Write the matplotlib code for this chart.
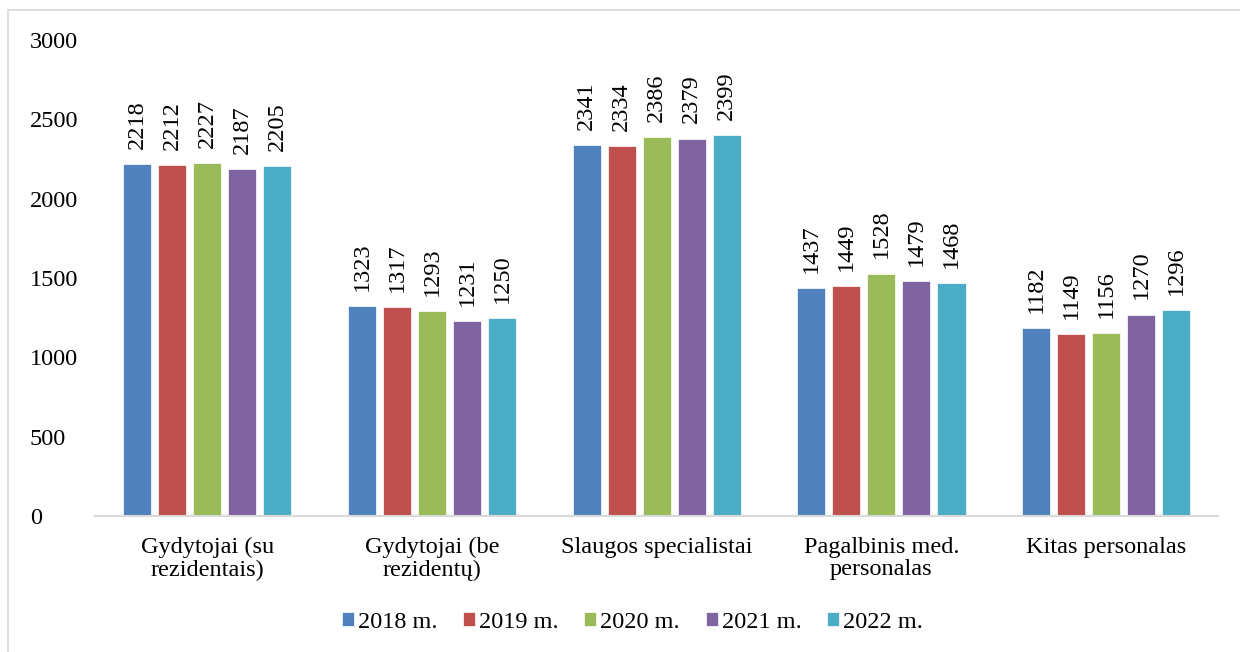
import matplotlib.pyplot as plt
from matplotlib.patches import Rectangle
import numpy as np

plt.rcParams['font.family'] = ['Liberation Serif', 'DejaVu Serif']

categories = ['Gydytojai (su\nrezidentais)', 'Gydytojai (be\nrezidentų)', 'Slaugos specialistai',
              'Pagalbinis med.\npersonalas', 'Kitas personalas']
years = ['2018 m.', '2019 m.', '2020 m.', '2021 m.', '2022 m.']
values = [
    [2218, 1323, 2341, 1437, 1182],
    [2212, 1317, 2334, 1449, 1149],
    [2227, 1293, 2386, 1528, 1156],
    [2187, 1231, 2379, 1479, 1270],
    [2205, 1250, 2399, 1468, 1296],
]
colors = ['#4F81BD', '#C0504D', '#9BBB59', '#8064A2', '#4BACC6']

FS = 17.5

fig = plt.figure(figsize=(12.4, 6.52), dpi=100)
ax = fig.add_axes([0.0766, 0.2086, 0.906, 0.730])

# outer chart border
fig.patches.append(Rectangle((8 / 1240, -0.1), 1.2, 1 - 10 / 652 + 0.1, transform=fig.transFigure,
                             fill=False, edgecolor='#d9d9d9', linewidth=1.2))

x = np.arange(len(categories))
width = 0.125
pitch = 0.156
for i, (yr, vals) in enumerate(zip(years, values)):
    pos = x + (i - 2) * pitch
    ax.bar(pos, vals, width=width, color=colors[i], label=yr, edgecolor='white', linewidth=0.5)
    for p, v in zip(pos, vals):
        ax.text(p, v + 95, str(v), rotation=90, ha='center', va='bottom', fontsize=FS)

ax.set_xlim(-0.5, len(categories) - 0.5)
ax.set_ylim(0, 3000)
ax.set_yticks(np.arange(0, 3001, 500))
ax.set_xticks(x)
ax.set_xticklabels(categories, fontsize=FS, linespacing=1.1)
ax.tick_params(axis='y', labelsize=FS, length=0, pad=47)
ax.tick_params(axis='x', length=0, pad=15)
for lbl in ax.get_yticklabels():
    lbl.set_horizontalalignment('left')
for s in ['top', 'right', 'left']:
    ax.spines[s].set_visible(False)
ax.spines['bottom'].set_color('#d9d9d9')
ax.spines['bottom'].set_linewidth(1.5)

fig.legend(loc='center', bbox_to_anchor=(0.51, 0.046), ncol=5, frameon=False, fontsize=FS,
           handlelength=0.5, handleheight=0.5, handletextpad=0.16, columnspacing=1.05)

plt.savefig('out.png', dpi=100)
